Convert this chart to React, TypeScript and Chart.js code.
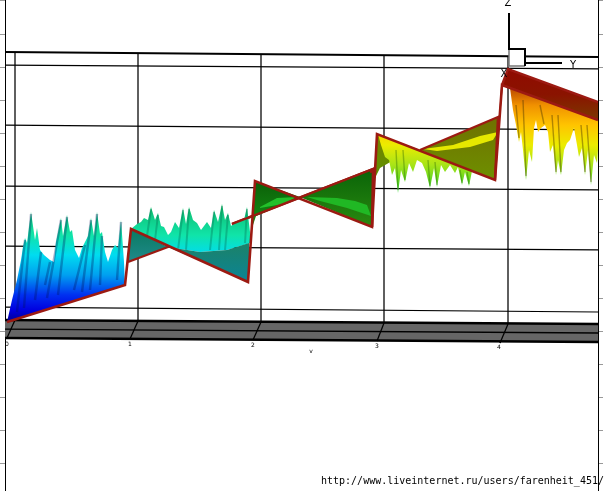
import React, { useEffect, useRef } from "react";
import { Chart, registerables } from "chart.js";

Chart.register(...registerables);

type P = [number, number];

// Axis ticks along the vertical scale
const yTickValues = [1, 34, 67, 100, 133, 166, 199, 232, 265, 298, 331, 364, 397, 430, 463];

// Height colour map (bright surface)
const heightStops = [69, 90, 105, 125, 145, 165, 180, 195, 205, 215, 235, 255, 275, 295, 310, 322];
const heightColours = ["#a01000", "#c05000", "#f09000", "#ffc400", "#ecec00", "#a8e418", "#64d820", "#30d840", "#10c868", "#10c880", "#10e4a8", "#00dcf0", "#00a0f0", "#0030f0", "#0000e0", "#000090"];

// Frame: near-horizontal box lines
const thickLines: P[][] = [[[5, 52], [598, 57]], [[5, 320], [598, 324]], [[5, 338], [598, 342]]];
const thinLines: P[][] = [
  [[5, 65], [598, 69]], [[5, 125], [598, 130]], [[5, 186], [598, 190]],
  [[5, 246], [598, 250]], [[5, 307], [598, 312]], [[5, 329], [598, 333]],
  [[15, 53], [15, 320]], [[138, 54], [138, 321]], [[261, 55], [261, 322]],
  [[384, 56], [384, 323]], [[508, 57], [508, 324]],
  [[15, 320], [7, 338]], [[138, 321], [130, 339]], [[261, 322], [253, 340]],
  [[384, 323], [377, 341]], [[508, 324], [500, 343]],
];
const bandTop: P[] = [[5, 320], [598, 324]];
const bandBottom: P[] = [[5, 338], [598, 342]];

// Corner triad
const triadBoxTop: P[] = [[509, 49], [525, 49]];
const triadBoxBottom: P[] = [[509, 66], [525, 66]];
const triadBlack: P[][] = [[[509, 13], [509, 49], [525, 49], [525, 66]], [[525, 63], [562, 63]]];
const triadGrey: P[] = [[509, 49], [509, 66], [525, 66]];

// Spike surfaces
const spikesATop: P[] = [[7, 322], [12, 300], [17, 280], [21, 260], [23, 247], [25, 238], [27, 243], [31, 212], [35, 240], [37, 228], [40, 250], [44, 255], [50, 260], [54, 262], [56, 242], [61, 218], [63, 236], [67, 215], [70, 232], [72, 230], [75, 250], [79, 258], [82, 248], [85, 242], [88, 236], [91, 218], [94, 236], [97, 212], [100, 234], [102, 232], [105, 252], [108, 262], [112, 250], [115, 245], [118, 248], [121, 220], [124, 262], [125, 285]];
const spikesABase: P[] = [[7, 322], [125, 285]];
const spikesBTop: P[] = [[131, 229], [137, 224], [141, 222], [144, 218], [148, 220], [151, 207], [155, 220], [158, 213], [161, 226], [164, 227], [168, 235], [171, 232], [175, 222], [179, 228], [183, 208], [186, 224], [189, 207], [193, 220], [197, 223], [201, 230], [207, 222], [211, 228], [214, 210], [218, 222], [222, 204], [225, 220], [228, 213], [231, 226], [236, 222], [240, 220], [244, 220], [247, 207], [250, 232]];
const spikesBBase: P[] = [[131, 229], [168, 247], [200, 252], [227, 250], [250, 243]];
const spikesDTop: P[] = [[378, 134], [420, 150], [472, 171]];
const spikesDTips: P[] = [[378, 134], [381, 145], [385, 157], [389, 160], [392, 175], [395, 168], [398, 193], [401, 170], [405, 182], [409, 163], [413, 172], [417, 160], [422, 163], [426, 172], [430, 188], [434, 168], [437, 187], [441, 165], [445, 172], [450, 165], [455, 173], [458, 167], [462, 185], [465, 172], [469, 186], [472, 171]];
const spikesETop: P[] = [[503, 85], [598, 120]];
const spikesETips: P[] = [[510, 88], [513, 110], [516, 125], [519, 142], [521, 132], [523, 150], [526, 180], [529, 150], [532, 162], [534, 128], [536, 120], [538, 132], [541, 128], [545, 125], [548, 132], [550, 152], [553, 145], [556, 175], [558, 160], [561, 175], [564, 150], [567, 143], [570, 140], [574, 128], [577, 145], [579, 157], [582, 148], [585, 175], [588, 150], [591, 185], [594, 155], [597, 163], [598, 150]];

// Twisted ribbon faces
const faceB1Top: P[] = [[125, 285], [131, 229], [168, 247]];
const faceB1Bottom: P[] = [[125, 285], [128, 262], [168, 247]];
const faceB2Top: P[] = [[168, 247], [200, 252], [227, 250], [249, 243]];
const faceB2Bottom: P[] = [[168, 247], [249, 282]];
const faceC1Top: P[] = [[248, 282], [255, 181], [300, 197]];
const faceC1Bottom: P[] = [[248, 282], [252, 228], [256, 216], [300, 197]];
const faceC2Top: P[] = [[300, 197], [373, 169], [375, 171]];
const faceC2Bottom: P[] = [[300, 197], [372, 227], [375, 171]];
const faceD1Top: P[] = [[372, 227], [377, 134], [420, 150]];
const faceD1Bottom: P[] = [[372, 227], [375, 178], [380, 168], [392, 161], [420, 150]];
const faceD2Top: P[] = [[420, 150], [498, 117]];
const faceD2Bottom: P[] = [[420, 150], [495, 180], [498, 117]];
const faceETop: P[] = [[495, 180], [501, 86], [508, 69], [598, 102]];
const faceEBottom: P[] = [[495, 180], [499, 128], [503, 85], [598, 120]];

// Bright lenses on the faces
const lensC1Top: P[] = [[260, 207], [277, 198], [297, 197]];
const lensC1Bottom: P[] = [[260, 208], [283, 204], [297, 197]];
const lensC2Top: P[] = [[307, 197], [337, 198], [355, 201], [367, 205], [371, 216]];
const lensC2Bottom: P[] = [[307, 197], [320, 201], [347, 208], [371, 216]];
const lensD1Top: P[] = [[380, 141], [400, 145], [418, 150]];
const lensD1Bottom: P[] = [[380, 141], [388, 155], [405, 150], [418, 150]];
const lensD2Top: P[] = [[423, 149], [453, 145], [480, 136], [498, 132]];
const lensD2Bottom: P[] = [[423, 149], [437, 151], [470, 147], [493, 140], [498, 132]];

// Dark ridges on the spikes
const ridgesA: P[][] = [[[17, 312], [25, 240]], [[24, 308], [31, 214]], [[35, 300], [41, 252]], [[47, 298], [61, 220]], [[58, 295], [67, 217]], [[74, 290], [85, 245]], [[82, 292], [91, 220]], [[90, 290], [97, 214]], [[100, 285], [102, 236]], [[117, 280], [121, 222]], [[45, 285], [50, 262]]];
const ridgesB: P[][] = [[[147, 236], [151, 209]], [[155, 240], [158, 215]], [[178, 250], [183, 210]], [[186, 250], [189, 209]], [[210, 250], [214, 212]], [[219, 250], [222, 206]], [[225, 250], [228, 215]], [[245, 243], [247, 209]]];
const ridgesD: P[][] = [[[396, 150], [398, 190]], [[403, 150], [405, 180]], [[428, 160], [430, 186]], [[435, 162], [437, 185]], [[460, 170], [462, 183]], [[467, 172], [469, 184]]];
const ridgesE: P[][] = [[[516, 105], [519, 138]], [[523, 100], [526, 176]], [[540, 105], [544, 124]], [[552, 115], [556, 172]], [[558, 115], [561, 172]], [[581, 125], [585, 172]], [[587, 125], [591, 182]]];

// Red ribbon edges
const ribbonMain: P[] = [[7, 322], [125, 285], [131, 229], [248, 282], [255, 181], [372, 227], [377, 134], [495, 180], [502, 85], [598, 120]];
const ribbonSecond: P[][] = [
  [[128, 262], [168, 247]], [[232, 224], [373, 169], [372, 227]], [[370, 172], [376, 170]],
  [[420, 150], [498, 117], [495, 180]], [[502, 85], [508, 69], [598, 102]],
];

// Text
const axisDigits = ["0", "1", "2", "3", "4"];
const axisDigitX = [7, 130, 253, 377, 499];
const axisDigitY = [344, 344, 345, 346, 347];
const triadLabels = ["Z", "Y", "X"];
const triadLabelX = [508, 573, 504];
const triadLabelY = [3, 65, 74];
const watermark = "http://www.liveinternet.ru/users/farenheit_451/";

const verticalFill = (stops: number[], colours: string[]) => (ctx: any) => {
  const scale = ctx.chart.scales?.y;
  const a = scale?.getPixelForValue(stops[0]);
  const b = scale?.getPixelForValue(stops[stops.length - 1]);
  if (!Number.isFinite(a) || !Number.isFinite(b) || a === b) return colours[0];
  const g = ctx.chart.ctx.createLinearGradient(0, a, 0, b);
  stops.forEach((s, i) => g.addColorStop((s - stops[0]) / (stops[stops.length - 1] - stops[0]), colours[i]));
  return g;
};
const heightFill = verticalFill(heightStops, heightColours);

const xy = (p: P[]) => p.map(([x, y]) => ({ x, y }));
const stroke = (p: P[], color: string, width: number) => ({
  data: xy(p), showLine: true, borderColor: color, borderWidth: width, fill: false,
  pointRadius: 0, tension: 0, borderCapStyle: "butt",
});
const area = (top: P[], bottom: P[], fillStyle: any) => [
  { data: xy(top), showLine: true, borderWidth: 0, backgroundColor: fillStyle, fill: "+1", pointRadius: 0, tension: 0 },
  { data: xy(bottom), showLine: true, borderWidth: 0, fill: false, pointRadius: 0, tension: 0 },
];

const red = "#9c1a12";
const layers: any[] = [
  ...thinLines.map((l) => stroke(l, "#000000", 1.25)),
  ...thickLines.slice(0, 1).map((l) => stroke(l, "#000000", 2)),
  ...area(bandTop, bandBottom, "#666666"),
  stroke(thinLines[5], "#000000", 1.25),
  ...thickLines.slice(1).map((l) => stroke(l, "#000000", 2.5)),
  ...[0, 1, 2, 3, 4].map((i) => stroke(thinLines[11 + i], "#000000", 1.25)),
  ...area(triadBoxTop, triadBoxBottom, "#ffffff"),
  stroke(triadGrey, "#777777", 1.5),
  ...triadBlack.map((l) => stroke(l, "#000000", 2)),
  // surfaces
  ...area(spikesATop, spikesABase, heightFill),
  ...ridgesA.map((l) => stroke(l, "rgba(0,20,90,0.32)", 2.4)),
  stroke(ribbonSecond[1], red, 2.5),
  ...area(spikesBTop, spikesBBase, heightFill),
  ...ridgesB.map((l) => stroke(l, "rgba(0,90,70,0.3)", 2)),
  ...area(faceB1Top, faceB1Bottom, verticalFill([229, 262], ["#0a7a60", "#1f8a8c"])),
  ...area(faceB2Top, faceB2Bottom, verticalFill([243, 282], ["#1c8268", "#0a8496"])),
  ...area(faceC1Top, faceC1Bottom, verticalFill([181, 216], ["#0c5f08", "#128412"])),
  ...area(faceC2Top, faceC2Bottom, verticalFill([170, 227], ["#0a6408", "#2a8a10"])),
  ...area(lensC1Top, lensC1Bottom, "#22c02a"),
  ...area(lensC2Top, lensC2Bottom, "#20b824"),
  ...area(faceD1Top, faceD1Bottom, verticalFill([134, 172], ["#7a8000", "#5f9000"])),
  ...area(lensD1Top, lensD1Bottom, "#d8e000"),
  ...area(spikesDTop, spikesDTips, heightFill),
  ...ridgesD.map((l) => stroke(l, "rgba(30,90,0,0.35)", 1.4)),
  ...area(faceD2Top, faceD2Bottom, verticalFill([117, 180], ["#6f7000", "#6e9000"])),
  ...area(lensD2Top, lensD2Bottom, "#e6e800"),
  ...area(spikesETop, spikesETips, heightFill),
  ...ridgesE.map((l) => stroke(l, "rgba(70,50,0,0.42)", 1.4)),
  ...area(faceETop, faceEBottom, verticalFill([69, 95, 122, 180], ["#900a00", "#8a1400", "#7a3c00", "#8a6000"])),
  stroke(ribbonMain, red, 2.6),
  ...ribbonSecond.map((l) => stroke(l, red, 2.4)),
];
layers.forEach((d, i) => { d.order = layers.length - i; });

const labelsPlugin = {
  id: "textLabels",
  afterDraw(chart: any) {
    const { ctx, scales } = chart;
    const put = (t: string, x: number, y: number) => ctx.fillText(t, scales.x.getPixelForValue(x), scales.y.getPixelForValue(y));
    ctx.save();
    ctx.fillStyle = "#000000";
    ctx.textBaseline = "middle";
    ctx.textAlign = "center";
    ctx.font = '6px "DejaVu Sans"';
    axisDigits.forEach((t, i) => put(t, axisDigitX[i], axisDigitY[i]));
    put("v", 311, 351);
    ctx.font = '10px "DejaVu Sans"';
    triadLabels.forEach((t, i) => put(t, triadLabelX[i], triadLabelY[i]));
    ctx.textAlign = "left";
    ctx.font = '10px "DejaVu Sans Mono"';
    put(watermark, 321, 481);
    ctx.restore();
  },
};

const sideAxis = (position: string) => ({
  type: "linear",
  position,
  min: 0,
  max: 491,
  reverse: true,
  afterBuildTicks: (s: any) => { s.ticks = yTickValues.map((value) => ({ value })); },
  ticks: { display: false },
  border: { display: true, color: "#000000", width: 1 },
  grid: { drawOnChartArea: false, drawTicks: true, tickLength: 5, color: "#999999" },
});

export default function App() {
  const ref = useRef<HTMLCanvasElement>(null);
  useEffect(() => {
    const chart = new Chart(ref.current as HTMLCanvasElement, {
      type: "scatter",
      data: { datasets: layers },
      plugins: [labelsPlugin],
      options: {
        animation: false,
        responsive: false,
        devicePixelRatio: 1,
        layout: { padding: { left: 0, right: 6, top: 0, bottom: 0 } },
        plugins: { legend: { display: false }, title: { display: false }, tooltip: { enabled: false } },
        events: [],
        scales: {
          x: { type: "linear", min: 5, max: 598, display: false },
          y: sideAxis("left"),
          yRight: sideAxis("right"),
        },
      },
    } as any);
    return () => chart.destroy();
  }, []);
  return (
    <canvas
      ref={ref}
      width={609}
      height={491}
      style={{ position: "fixed", left: 0, top: 0, width: 609, height: 491, display: "block" }}
    />
  );
}
